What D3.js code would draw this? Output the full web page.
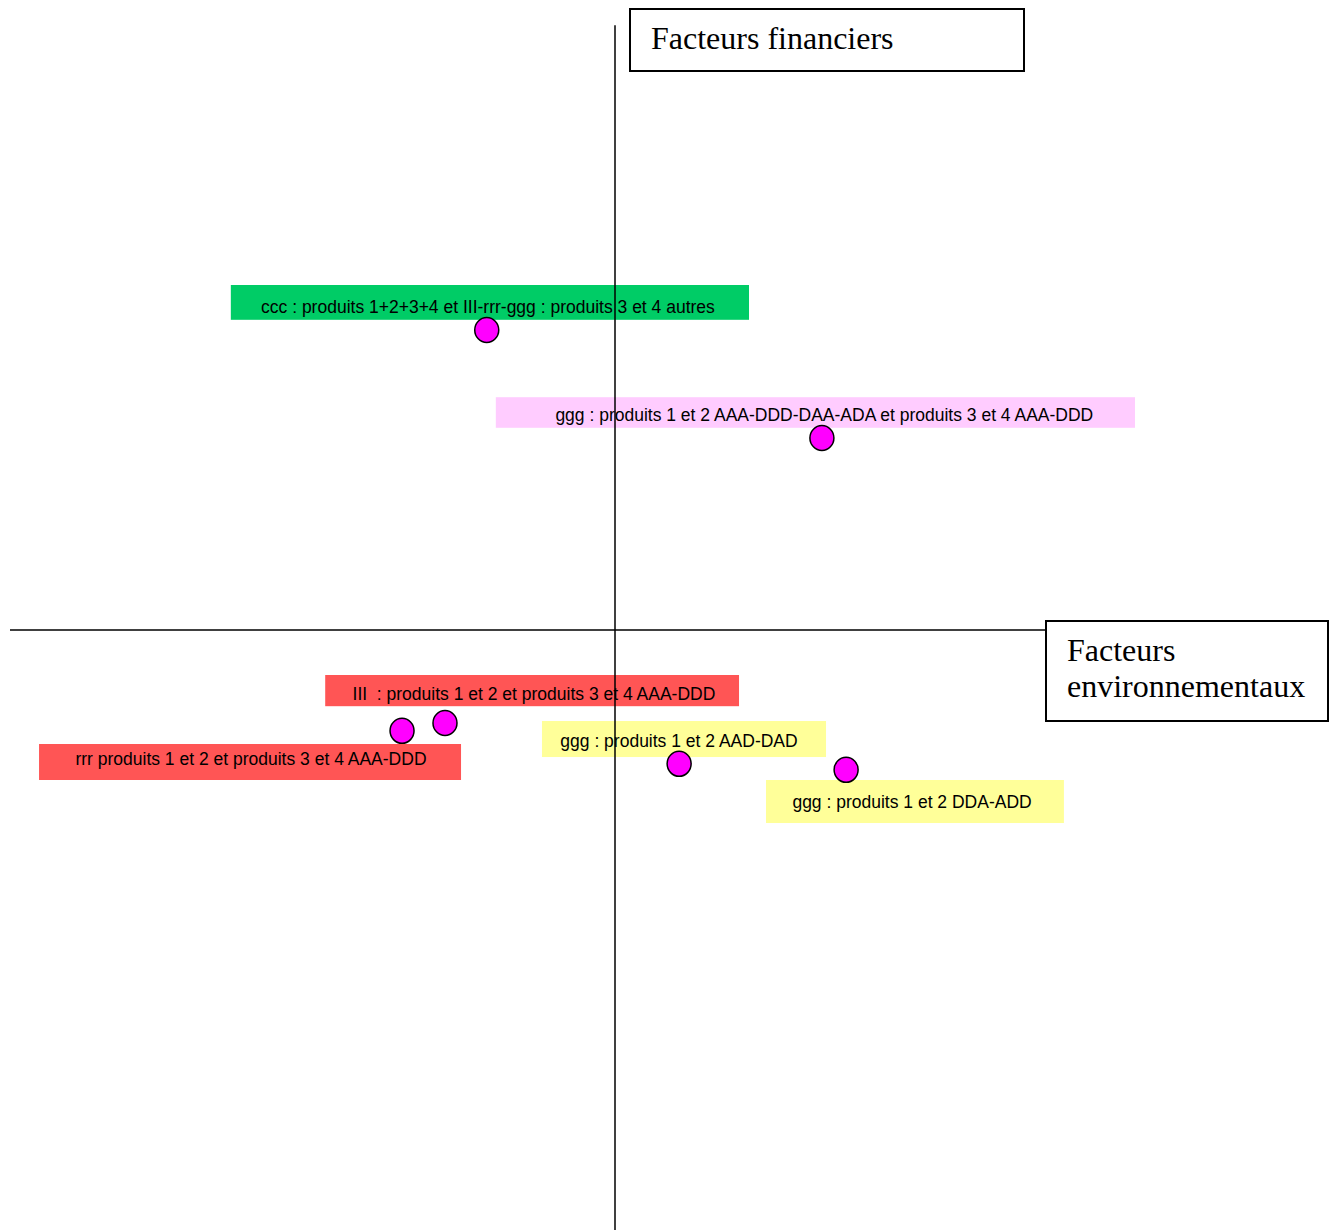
<!DOCTYPE html>
<html>
<head>
<meta charset="utf-8">
<title>Facteurs financiers / environnementaux</title>
<script src="https://d3js.org/d3.v7.min.js" charset="utf-8"></script>
<style>
  html, body { margin: 0; padding: 0; background: #fff; }
</style>
</head>
<body>
<script>
// points (x = facteurs environnementaux, y = facteurs financiers)
const pointX = [-0.212, 0.342, -0.352, -0.281, 0.106, 0.382];
const pointY = [0.500, 0.320, -0.168, -0.155, -0.223, -0.233];

// labels
const labelTexts = [
  "ccc : produits 1+2+3+4 et III-rrr-ggg : produits 3 et 4 autres",
  "ggg : produits 1 et 2 AAA-DDD-DAA-ADA et produits 3 et 4 AAA-DDD",
  "III  : produits 1 et 2 et produits 3 et 4 AAA-DDD",
  "rrr produits 1 et 2 et produits 3 et 4 AAA-DDD",
  "ggg : produits 1 et 2 AAD-DAD",
  "ggg : produits 1 et 2 DDA-ADD"
];
const labelColors = ["#00cc66", "#ffccff", "#ff5555", "#ff5555", "#ffff99", "#ffff99"];

// label box placement in data units: [x0, x1, yTop, yBottom, textCx, textBaseline]
const labelBoxes = [
  [-0.635, 0.2215, 0.575, 0.517, -0.210, 0.528],
  [-0.197, 0.8595, 0.388, 0.337, 0.346, 0.348],
  [-0.479, 0.205, -0.075, -0.127, -0.134, -0.117],
  [-0.952, -0.2545, -0.190, -0.250, -0.6017, -0.225],
  [-0.1207, 0.3488, -0.1517, -0.2117, 0.1058, -0.195],
  [0.2496, 0.742, -0.250, -0.3217, 0.491, -0.2967]
];

const axisTitles = ["Facteurs financiers", "Facteurs environnementaux"];

const width = 1336, height = 1230;

const x = d3.scaleLinear().domain([-1, 1]).range([10, 1220]);
const y = d3.scaleLinear().domain([-1, 1]).range([1230, 30]);

const svg = d3.select("body").append("svg")
  .attr("width", width)
  .attr("height", height)
  .style("display", "block");

// label boxes
const lab = svg.append("g").selectAll("g")
  .data(labelTexts.map((t, i) => ({ text: t, color: labelColors[i], b: labelBoxes[i] })))
  .join("g");

lab.append("rect")
  .attr("x", d => x(d.b[0]))
  .attr("y", d => y(d.b[2]))
  .attr("width", d => x(d.b[1]) - x(d.b[0]))
  .attr("height", d => y(d.b[3]) - y(d.b[2]))
  .attr("fill", d => d.color);

lab.append("text")
  .attr("x", d => x(d.b[4]))
  .attr("y", d => y(d.b[5]))
  .attr("text-anchor", "middle")
  .attr("font-family", "'Liberation Sans', Arial, sans-serif")
  .attr("font-size", 17.5)
  .attr("fill", "#000")
  .style("white-space", "pre")
  .text(d => d.text);

// axes
svg.append("line")
  .attr("x1", x(-1)).attr("x2", x(0.712))
  .attr("y1", y(0)).attr("y2", y(0))
  .attr("stroke", "#000").attr("stroke-width", 1.5);

svg.append("line")
  .attr("x1", x(0)).attr("x2", x(0))
  .attr("y1", y(1.008)).attr("y2", y(-1))
  .attr("stroke", "#000").attr("stroke-width", 1.5);

// points
svg.append("g").selectAll("ellipse")
  .data(pointX.map((v, i) => [v, pointY[i]]))
  .join("ellipse")
  .attr("cx", d => x(d[0]))
  .attr("cy", d => y(d[1]))
  .attr("rx", 12)
  .attr("ry", 12.5)
  .attr("fill", "#ff00ff")
  .attr("stroke", "#000")
  .attr("stroke-width", 1.5);

// axis title boxes
const t1 = svg.append("g");
t1.append("rect")
  .attr("x", 630).attr("y", 9).attr("width", 394).attr("height", 62)
  .attr("fill", "#fff").attr("stroke", "#000").attr("stroke-width", 2);
t1.append("text")
  .attr("x", 651).attr("y", 49)
  .attr("font-family", "'Liberation Serif', 'Times New Roman', serif")
  .attr("font-size", 32)
  .text(axisTitles[0]);

const t2 = svg.append("g");
t2.append("rect")
  .attr("x", 1046).attr("y", 621).attr("width", 282).attr("height", 100)
  .attr("fill", "#fff").attr("stroke", "#000").attr("stroke-width", 2);
t2.append("text")
  .attr("x", 1067)
  .attr("font-family", "'Liberation Serif', 'Times New Roman', serif")
  .attr("font-size", 32)
  .selectAll("tspan")
  .data(axisTitles[1].split(" "))
  .join("tspan")
  .attr("x", 1067)
  .attr("y", (d, i) => 661 + i * 36)
  .text(d => d);
</script>
</body>
</html>
